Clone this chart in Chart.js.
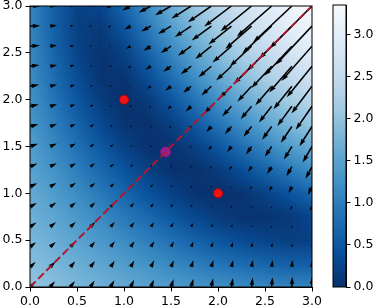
<!DOCTYPE html>
<html>
<head>
<meta charset="utf-8">
<script src="https://cdn.jsdelivr.net/npm/chart.js@4.4.0/dist/chart.umd.min.js"></script>
<style>
  html, body { margin: 0; padding: 0; background: #fff; }
  #wrap { position: relative; width: 378px; height: 308px; }
  #wrap canvas { position: absolute; left: 0; top: 0; }
</style>
</head>
<body>
<div id="wrap">
  <canvas id="fieldChart" width="378" height="308"></canvas>
  <canvas id="barChart" width="378" height="308"></canvas>
</div>
<script>
// values

// heat map samples, rows go from y = 0 (bottom) to y = 3 (top)
var heatGrid = [0, 0.25, 0.5, 0.75, 1, 1.25, 1.5, 1.75, 2, 2.25, 2.5, 2.75, 3];
var heatValues = [
    [2.01, 1.91, 1.81, 1.71, 1.61, 1.51, 1.42, 1.33, 1.25, 1.19, 1.14, 1.11, 1.10],
    [1.91, 1.79, 1.67, 1.54, 1.40, 1.27, 1.13, 1.00, 0.88, 0.77, 0.68, 0.62, 0.60],
    [1.81, 1.67, 1.51, 1.35, 1.18, 1.00, 0.83, 0.65, 0.49, 0.35, 0.25, 0.20, 0.22],
    [1.71, 1.54, 1.35, 1.15, 0.94, 0.73, 0.51, 0.31, 0.15, 0.05, 0.04, 0.12, 0.27],
    [1.61, 1.40, 1.18, 0.94, 0.69, 0.45, 0.22, 0.06, 0.00, 0.06, 0.22, 0.45, 0.69],
    [1.51, 1.27, 1.00, 0.73, 0.45, 0.20, 0.04, 0.02, 0.15, 0.38, 0.65, 0.93, 1.20],
    [1.42, 1.13, 0.83, 0.51, 0.22, 0.04, 0.03, 0.20, 0.49, 0.80, 1.11, 1.40, 1.66],
    [1.33, 1.00, 0.65, 0.31, 0.06, 0.02, 0.20, 0.52, 0.88, 1.22, 1.53, 1.81, 2.06],
    [1.25, 0.88, 0.49, 0.15, 0.00, 0.15, 0.49, 0.88, 1.25, 1.59, 1.89, 2.16, 2.40],
    [1.19, 0.77, 0.35, 0.05, 0.06, 0.38, 0.80, 1.22, 1.59, 1.92, 2.21, 2.47, 2.70],
    [1.14, 0.68, 0.25, 0.04, 0.22, 0.65, 1.11, 1.53, 1.89, 2.21, 2.49, 2.74, 2.96],
    [1.11, 0.62, 0.20, 0.12, 0.45, 0.93, 1.40, 1.81, 2.16, 2.47, 2.74, 2.98, 3.19],
    [1.10, 0.60, 0.22, 0.27, 0.69, 1.20, 1.66, 2.06, 2.40, 2.70, 2.96, 3.19, 3.40]
];
var colorMax = 3.35;

// arrow grid (same coords on both axes), rows go from y = 0 to y = 3
var arrowGrid = [0, 0.214, 0.429, 0.643, 0.857, 1.071, 1.286, 1.5, 1.714, 1.929, 2.143, 2.357, 2.571, 2.786, 3];
var arrowU = [
    [3.0, 2.79, 2.57, 2.36, 2.14, 1.93, 1.71, 1.5, 1.29, 1.07, 0.86, 0.64, 0.43, 0.21, 0.0],
    [3.21, 2.99, 2.77, 2.54, 2.32, 2.09, 1.87, 1.65, 1.42, 1.2, 0.97, 0.75, 0.53, 0.3, 0.08],
    [3.43, 3.17, 2.92, 2.67, 2.41, 2.16, 1.91, 1.65, 1.4, 1.15, 0.89, 0.64, 0.38, 0.13, -0.12],
    [3.64, 3.34, 3.04, 2.73, 2.43, 2.13, 1.83, 1.52, 1.22, 0.92, 0.61, 0.31, 0.01, -0.3, -0.6],
    [3.86, 3.49, 3.11, 2.74, 2.37, 2.0, 1.63, 1.26, 0.88, 0.51, 0.14, -0.23, -0.6, -0.97, -1.35],
    [4.07, 3.61, 3.15, 2.69, 2.23, 1.77, 1.31, 0.85, 0.39, -0.07, -0.53, -0.99, -1.45, -1.91, -2.37],
    [4.29, 3.72, 3.15, 2.58, 2.01, 1.44, 0.87, 0.31, -0.26, -0.83, -1.4, -1.97, -2.54, -3.1, -3.67],
    [4.5, 3.8, 3.11, 2.41, 1.71, 1.02, 0.32, -0.37, -1.07, -1.77, -2.46, -3.16, -3.86, -4.55, -5.25],
    [4.71, 3.87, 3.03, 2.18, 1.34, 0.49, -0.35, -1.19, -2.04, -2.88, -3.73, -4.57, -5.41, -6.26, -7.1],
    [4.93, 3.92, 2.91, 1.89, 0.88, -0.13, -1.14, -2.15, -3.16, -4.17, -5.18, -6.2, -7.21, -8.22, -9.23],
    [5.14, 3.94, 2.75, 1.55, 0.35, -0.85, -2.05, -3.24, -4.44, -5.64, -6.84, -8.04, -9.24, -10.43, -11.63],
    [5.36, 3.95, 2.55, 1.14, -0.26, -1.67, -3.07, -4.48, -5.88, -7.29, -8.69, -10.1, -11.5, -12.91, -14.31],
    [5.57, 3.94, 2.31, 0.68, -0.95, -2.58, -4.22, -5.85, -7.48, -9.11, -10.74, -12.37, -14.0, -15.63, -17.26],
    [5.79, 3.91, 2.03, 0.15, -1.72, -3.6, -5.48, -7.35, -9.23, -11.11, -12.99, -14.86, -16.74, -18.62, -20.5],
    [6.0, 3.86, 1.71, -0.43, -2.57, -4.71, -6.86, -9.0, -11.14, -13.29, -15.43, -17.57, -19.71, -21.86, -24.0]
];
var arrowV = [
    [3.0, 3.21, 3.43, 3.64, 3.86, 4.07, 4.29, 4.5, 4.71, 4.93, 5.14, 5.36, 5.57, 5.79, 6.0],
    [2.79, 2.99, 3.17, 3.34, 3.49, 3.61, 3.72, 3.8, 3.87, 3.92, 3.94, 3.95, 3.94, 3.91, 3.86],
    [2.57, 2.77, 2.92, 3.04, 3.11, 3.15, 3.15, 3.11, 3.03, 2.91, 2.75, 2.55, 2.31, 2.03, 1.71],
    [2.36, 2.54, 2.67, 2.73, 2.74, 2.69, 2.58, 2.41, 2.18, 1.89, 1.55, 1.14, 0.68, 0.15, -0.43],
    [2.14, 2.32, 2.41, 2.43, 2.37, 2.23, 2.01, 1.71, 1.34, 0.88, 0.35, -0.26, -0.95, -1.72, -2.57],
    [1.93, 2.09, 2.16, 2.13, 2.0, 1.77, 1.44, 1.02, 0.49, -0.13, -0.85, -1.67, -2.58, -3.6, -4.71],
    [1.71, 1.87, 1.91, 1.83, 1.63, 1.31, 0.87, 0.32, -0.35, -1.14, -2.05, -3.07, -4.22, -5.48, -6.86],
    [1.5, 1.65, 1.65, 1.52, 1.26, 0.85, 0.31, -0.37, -1.19, -2.15, -3.24, -4.48, -5.85, -7.35, -9.0],
    [1.29, 1.42, 1.4, 1.22, 0.88, 0.39, -0.26, -1.07, -2.04, -3.16, -4.44, -5.88, -7.48, -9.23, -11.14],
    [1.07, 1.2, 1.15, 0.92, 0.51, -0.07, -0.83, -1.77, -2.88, -4.17, -5.64, -7.29, -9.11, -11.11, -13.29],
    [0.86, 0.97, 0.89, 0.61, 0.14, -0.53, -1.4, -2.46, -3.73, -5.18, -6.84, -8.69, -10.74, -12.99, -15.43],
    [0.64, 0.75, 0.64, 0.31, -0.23, -0.99, -1.97, -3.16, -4.57, -6.2, -8.04, -10.1, -12.37, -14.86, -17.57],
    [0.43, 0.53, 0.38, 0.01, -0.6, -1.45, -2.54, -3.86, -5.41, -7.21, -9.24, -11.5, -14.0, -16.74, -19.71],
    [0.21, 0.3, 0.13, -0.3, -0.97, -1.91, -3.1, -4.55, -6.26, -8.22, -10.43, -12.91, -15.63, -18.62, -21.86],
    [0.0, 0.08, -0.12, -0.6, -1.35, -2.37, -3.67, -5.25, -7.1, -9.23, -11.63, -14.31, -17.26, -20.5, -24.0]
];

// dashed diagonal, the two red minima and the purple balanced point
var lineX = [0, 3];
var lineY = [0, 3];
var minimaX = [1, 2];
var minimaY = [2, 1];
var balancedX = [1.442];
var balancedY = [1.442];

var xTicks = [0, 0.5, 1, 1.5, 2, 2.5, 3];
var yTicks = [0, 0.5, 1, 1.5, 2, 2.5, 3];
var barTicks = [0, 0.5, 1, 1.5, 2, 2.5, 3];


// Blues colormap, reversed (dark = low)
var BLUES_R = [
    [8, 48, 107], [8, 81, 156], [33, 113, 181], [66, 146, 198], [107, 174, 214],
    [158, 202, 225], [198, 219, 239], [222, 235, 247], [247, 251, 255]
];
function bluesR(t) {
    t = Math.min(1, Math.max(0, t));
    var p = t * 8;
    var i = Math.min(7, Math.floor(p));
    var f = p - i;
    var a = BLUES_R[i], b = BLUES_R[i + 1];
    return [a[0] + (b[0] - a[0]) * f, a[1] + (b[1] - a[1]) * f, a[2] + (b[2] - a[2]) * f];
}

Chart.defaults.font.family = '"DejaVu Sans", sans-serif';
Chart.defaults.font.size = 12.5;
Chart.defaults.color = '#000';

function pts(xs, ys) {
    return xs.map(function(x, i) { return { x: x, y: ys[i] }; });
}

function axis(ticks, pos) {
    return {
        type: 'linear',
        position: pos,
        min: 0,
        max: 3,
        afterBuildTicks: function(s) { s.ticks = ticks.map(function(v) { return { value: v }; }); },
        ticks: { callback: function(v) { return v.toFixed(1); }, padding: 3, maxRotation: 0 },
        grid: { drawOnChartArea: false, drawTicks: true, tickLength: 4.5, tickColor: '#000', tickWidth: 1 },
        border: { display: true, color: '#000', width: 1 }
    };
}

var heatPlugin = {
    id: 'heat',
    beforeDatasetsDraw: function(chart) {
        var ctx = chart.ctx, ca = chart.chartArea;
        var sx = chart.scales.x, sy = chart.scales.y;
        var n = heatGrid.length;
        var off = document.createElement('canvas');
        off.width = n; off.height = n;
        var octx = off.getContext('2d');
        var img = octx.createImageData(n, n);
        for (var r = 0; r < n; r++) {
            var j = n - 1 - r;
            for (var i = 0; i < n; i++) {
                var c = bluesR(heatValues[j][i] / colorMax);
                var k = (r * n + i) * 4;
                img.data[k] = c[0]; img.data[k + 1] = c[1]; img.data[k + 2] = c[2]; img.data[k + 3] = 255;
            }
        }
        octx.putImageData(img, 0, 0);
        var half = (heatGrid[1] - heatGrid[0]) / 2;
        var x0 = sx.getPixelForValue(heatGrid[0] - half), x1 = sx.getPixelForValue(heatGrid[n - 1] + half);
        var y0 = sy.getPixelForValue(heatGrid[n - 1] + half), y1 = sy.getPixelForValue(heatGrid[0] - half);
        ctx.save();
        ctx.beginPath();
        ctx.rect(ca.left, ca.top, ca.width, ca.height);
        ctx.clip();
        ctx.imageSmoothingEnabled = true;
        ctx.drawImage(off, x0, y0, x1 - x0, y1 - y0);
        ctx.restore();
    }
};

// arrows sized like matplotlib's quiver autoscale
var quiverPlugin = {
    id: 'quiver',
    beforeDatasetsDraw: function(chart) {
        var ctx = chart.ctx, ca = chart.chartArea;
        var sx = chart.scales.x, sy = chart.scales.y;
        var sum = 0, count = 0;
        arrowU.forEach(function(row, j) {
            row.forEach(function(u, i) { sum += Math.hypot(u, arrowV[j][i]); count++; });
        });
        var amean = sum / count;
        var sn = Math.max(10, Math.sqrt(count));
        var wFrac = 0.0055;
        var wpx = wFrac * ca.width;
        var scale = 1.8 * amean * sn;

        ctx.save();
        ctx.beginPath();
        ctx.rect(ca.left, ca.top, ca.width, ca.height);
        ctx.clip();
        ctx.fillStyle = '#000';
        for (var j = 0; j < arrowGrid.length; j++) {
            for (var i = 0; i < arrowGrid.length; i++) {
                var u = arrowU[j][i], v = arrowV[j][i];
                var len = Math.hypot(u, v) / (scale * wFrac);
                var poly;
                if (len < 1) {
                    poly = [];
                    for (var k = 0; k < 6; k++) poly.push([0.5 * Math.cos(k * Math.PI / 3), 0.5 * Math.sin(k * Math.PI / 3)]);
                } else if (len < 5) {
                    var sh = len / 5;
                    poly = [[0, 0.5], [0.5, 0.5], [0, 1.5], [5, 0], [0, -1.5], [0.5, -0.5], [0, -0.5]]
                        .map(function(p) { return [p[0] * sh, p[1] * sh]; });
                } else {
                    poly = [[0, 0.5], [len - 4.5, 0.5], [len - 5, 1.5], [len, 0], [len - 5, -1.5], [len - 4.5, -0.5], [0, -0.5]];
                }
                var th = Math.atan2(v, u), c = Math.cos(th), s = Math.sin(th);
                var px = sx.getPixelForValue(arrowGrid[i]), py = sy.getPixelForValue(arrowGrid[j]);
                ctx.beginPath();
                poly.forEach(function(p, k) {
                    var X = px + (p[0] * c - p[1] * s) * wpx;
                    var Y = py - (p[0] * s + p[1] * c) * wpx;
                    if (k) ctx.lineTo(X, Y); else ctx.moveTo(X, Y);
                });
                ctx.closePath();
                ctx.fill();
            }
        }
        ctx.restore();
    }
};

var framePlugin = {
    id: 'frame',
    afterDatasetsDraw: function(chart) {
        var ctx = chart.ctx, ca = chart.chartArea;
        ctx.save();
        ctx.strokeStyle = '#000';
        ctx.lineWidth = 1;
        ctx.strokeRect(ca.left, ca.top, ca.width, ca.height);
        ctx.restore();
    }
};

new Chart(document.getElementById('fieldChart').getContext('2d'), {
    type: 'scatter',
    data: {
        datasets: [
            {
                type: 'line',
                data: pts(lineX, lineY),
                borderColor: 'rgb(178, 24, 46)',
                borderWidth: 2,
                borderDash: [8, 3.5],
                pointRadius: 0,
                fill: false
            },
            {
                data: pts(minimaX, minimaY),
                backgroundColor: 'rgb(240, 20, 20)',
                borderColor: 'rgb(200, 0, 0)',
                borderWidth: 1,
                pointRadius: 4.5
            },
            {
                data: pts(balancedX, balancedY),
                backgroundColor: 'rgba(165, 30, 150, 0.9)',
                borderColor: 'rgba(140, 20, 130, 0.9)',
                borderWidth: 1,
                pointRadius: 5
            }
        ]
    },
    options: {
        responsive: false,
        animation: false,
        devicePixelRatio: 1,
        events: [],
        layout: { padding: { left: 0, top: 5, right: 66, bottom: 0 } },
        plugins: { legend: { display: false }, tooltip: { enabled: false } },
        scales: {
            x: Object.assign(axis(xTicks, 'bottom'), {
                afterFit: function(s) { s.height = 21; s.paddingLeft = 0; s.paddingRight = 0; }
            }),
            y: Object.assign(axis(yTicks, 'left'), {
                afterFit: function(s) { s.width = 30; s.paddingTop = 0; s.paddingBottom = 0; }
            })
        }
    },
    plugins: [heatPlugin, quiverPlugin, framePlugin]
});

// colour bar
var barPlugin = {
    id: 'bar',
    beforeDatasetsDraw: function(chart) {
        var ctx = chart.ctx, ca = chart.chartArea, sy = chart.scales.y;
        ctx.save();
        for (var py = Math.floor(ca.top); py < Math.ceil(ca.bottom); py++) {
            var c = bluesR(sy.getValueForPixel(py + 0.5) / colorMax);
            ctx.fillStyle = 'rgb(' + c.map(Math.round).join(',') + ')';
            ctx.fillRect(ca.left, py, ca.width, 1);
        }
        ctx.strokeStyle = '#000';
        ctx.lineWidth = 1;
        ctx.strokeRect(ca.left, ca.top, ca.width, ca.height);
        ctx.restore();
    }
};

new Chart(document.getElementById('barChart').getContext('2d'), {
    type: 'scatter',
    data: { datasets: [{ data: [] }] },
    options: {
        responsive: false,
        animation: false,
        devicePixelRatio: 1,
        events: [],
        layout: { padding: { left: 333, top: 5, right: 0, bottom: 21 } },
        plugins: { legend: { display: false }, tooltip: { enabled: false } },
        scales: {
            x: { type: 'linear', display: false, min: 0, max: 1 },
            y: {
                type: 'linear',
                position: 'right',
                min: 0,
                max: colorMax,
                afterBuildTicks: function(s) { s.ticks = barTicks.map(function(v) { return { value: v }; }); },
                afterFit: function(s) { s.width = 32; s.paddingTop = 0; s.paddingBottom = 0; },
                ticks: { callback: function(v) { return v.toFixed(1); }, padding: 3 },
                grid: { drawOnChartArea: false, drawTicks: true, tickLength: 4.5, tickColor: '#000', tickWidth: 1 },
                border: { display: true, color: '#000', width: 1 }
            }
        }
    },
    plugins: [barPlugin]
});
</script>
</body>
</html>
